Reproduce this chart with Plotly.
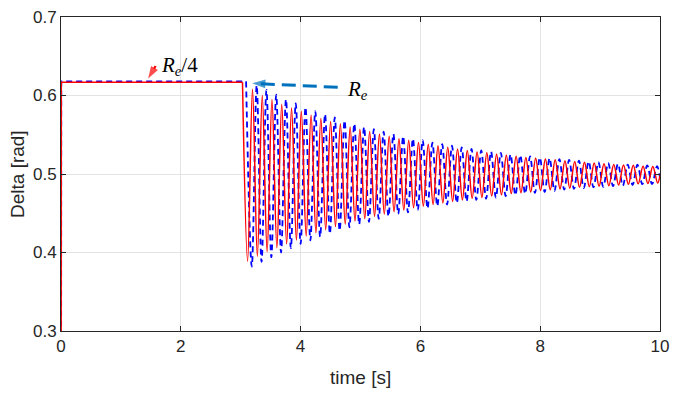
import plotly.graph_objects as go

# ---------------- data ----------------
# pre-fault part (time [s], delta [rad])
pre_t_red = [0.0, 0.005, 3.03]
pre_v_red = [0.0, 0.617, 0.617]
pre_t_blue = [0.0, 0.005, 3.09]
pre_v_blue = [0.0, 0.618, 0.618]

# post-fault extrema of the red (R_e/4) response
red_t = [
    3.03,
    3.115, 3.197, 3.278, 3.360, 3.441, 3.522, 3.604, 3.685, 3.767, 3.849,
    3.930, 4.012, 4.093, 4.175, 4.256, 4.338, 4.419, 4.501, 4.582, 4.664,
    4.745, 4.827, 4.908, 4.990, 5.071, 5.153, 5.234, 5.316, 5.397, 5.479,
    5.560, 5.642, 5.723, 5.805, 5.886, 5.968, 6.049, 6.131, 6.212, 6.294,
    6.375, 6.457, 6.538, 6.620, 6.701, 6.783, 6.864, 6.946, 7.027, 7.109,
    7.190, 7.272, 7.353, 7.435, 7.516, 7.598, 7.679, 7.761, 7.842, 7.924,
    8.005, 8.087, 8.168, 8.250, 8.331, 8.413, 8.494, 8.576, 8.657, 8.739,
    8.820, 8.902, 8.983, 9.065, 9.146, 9.228, 9.309, 9.391, 9.472, 9.554,
    9.635, 9.717, 9.798, 9.880, 9.961,
    10.0,
]
red_v = [
    0.617,
    0.389, 0.608, 0.395, 0.600, 0.401, 0.595, 0.406, 0.589, 0.411, 0.584,
    0.416, 0.580, 0.421, 0.575, 0.425, 0.571, 0.429, 0.567, 0.433, 0.564,
    0.436, 0.560, 0.440, 0.557, 0.443, 0.554, 0.446, 0.551, 0.449, 0.548,
    0.452, 0.545, 0.454, 0.543, 0.457, 0.540, 0.459, 0.538, 0.461, 0.536,
    0.463, 0.534, 0.465, 0.532, 0.467, 0.530, 0.469, 0.528, 0.470, 0.527,
    0.472, 0.525, 0.4735, 0.524, 0.475, 0.5225, 0.476, 0.521, 0.477, 0.520,
    0.479, 0.519, 0.480, 0.518, 0.481, 0.517, 0.482, 0.516, 0.483, 0.515,
    0.484, 0.514, 0.4845, 0.513, 0.485, 0.512, 0.486, 0.5115, 0.487, 0.511,
    0.4875, 0.510, 0.488, 0.5095, 0.4885,
    0.498,
]

# post-fault extrema of the blue (R_e) response
blue_t = [
    3.09,
    3.185, 3.267, 3.348, 3.430, 3.511, 3.593, 3.674, 3.756, 3.837, 3.919,
    4.000, 4.082, 4.163, 4.245, 4.326, 4.408, 4.489, 4.571, 4.652, 4.734,
    4.815, 4.897, 4.978, 5.060, 5.141, 5.223, 5.304, 5.386, 5.467, 5.549,
    5.630, 5.712, 5.793, 5.875, 5.956, 6.038, 6.119, 6.201, 6.282, 6.364,
    6.445, 6.527, 6.608, 6.690, 6.771, 6.853, 6.934, 7.016, 7.097, 7.179,
    7.260, 7.342, 7.423, 7.505, 7.586, 7.668, 7.749, 7.831, 7.912, 7.994,
    8.075, 8.157, 8.238, 8.320, 8.401, 8.483, 8.564, 8.646, 8.727, 8.809,
    8.890, 8.972, 9.053, 9.135, 9.216, 9.298, 9.379, 9.461, 9.542, 9.624,
    9.705, 9.787, 9.868, 9.950,
    10.0,
]
blue_v = [
    0.618,
    0.382, 0.613, 0.388, 0.607, 0.394, 0.601, 0.400, 0.595, 0.4055, 0.590,
    0.411, 0.585, 0.4155, 0.580, 0.420, 0.576, 0.424, 0.572, 0.428, 0.568,
    0.432, 0.564, 0.436, 0.560, 0.439, 0.557, 0.443, 0.554, 0.446, 0.551,
    0.449, 0.548, 0.451, 0.545, 0.454, 0.543, 0.456, 0.540, 0.459, 0.538,
    0.461, 0.536, 0.463, 0.534, 0.465, 0.532, 0.467, 0.530, 0.4685, 0.5285,
    0.470, 0.527, 0.472, 0.525, 0.473, 0.524, 0.475, 0.5225, 0.476, 0.521,
    0.477, 0.520, 0.4785, 0.519, 0.480, 0.518, 0.481, 0.517, 0.482, 0.516,
    0.483, 0.515, 0.4835, 0.514, 0.4845, 0.513, 0.485, 0.512, 0.486, 0.512,
    0.487, 0.511, 0.487, 0.510,
    0.495,
]

x_ticks = [0, 2, 4, 6, 8, 10]
y_ticks = [0.3, 0.4, 0.5, 0.6, 0.7]
x_title = "time [s]"
y_title = "Delta [rad]"

# ---------------- figure ----------------
RED = "#ff0000"
BLUE = "#0000ff"
ARROW_BLUE = "#0072bd"
TXT = "#262626"
SANS = "Liberation Sans, Arial, sans-serif"
SERIF = "Liberation Serif, serif"

fig = go.Figure()
fig.add_trace(go.Scatter(x=pre_t_blue, y=pre_v_blue, mode="lines",
                         line=dict(color=BLUE, width=1.8, dash="6px,4px"),
                         hoverinfo="skip"))
fig.add_trace(go.Scatter(x=blue_t, y=blue_v, mode="lines",
                         line=dict(color=BLUE, width=1.8, dash="6px,4px",
                                   shape="spline"),
                         hoverinfo="skip"))
fig.add_trace(go.Scatter(x=pre_t_red, y=pre_v_red, mode="lines",
                         line=dict(color=RED, width=1.5), hoverinfo="skip"))
fig.add_trace(go.Scatter(x=red_t, y=red_v, mode="lines",
                         line=dict(color=RED, width=1.5, shape="spline"),
                         hoverinfo="skip"))

# red arrow (tail -> tip) + label
fig.add_trace(go.Scatter(
    x=[1.58, 1.455], y=[0.6375, 0.6215], mode="lines+markers",
    line=dict(color=RED, width=2.2),
    marker=dict(symbol=["circle", "arrow"], size=[0, 13], color=RED,
                angleref="previous", line=dict(width=0)),
    hoverinfo="skip"))
fig.add_annotation(x=1.63, y=0.637, xref="x", yref="y", xanchor="left",
                   yanchor="middle", showarrow=False,
                   text="<i>R</i><sub><i>e</i></sub>/4",
                   font=dict(family=SERIF, size=21, color="#000000"))

# blue dashed arrow (tail -> tip) + label
fig.add_trace(go.Scatter(
    x=[4.62, 3.25], y=[0.6105, 0.6152], mode="lines",
    line=dict(color=ARROW_BLUE, width=3, dash="14px,7px"),
    hoverinfo="skip"))
fig.add_trace(go.Scatter(
    x=[3.40, 3.19], y=[0.6148, 0.6156], mode="markers",
    marker=dict(symbol=["circle", "arrow"], size=[0, 14], color=ARROW_BLUE,
                angleref="previous", line=dict(width=0)),
    hoverinfo="skip"))
fig.add_annotation(x=4.74, y=0.607, xref="x", yref="y", xanchor="left",
                   yanchor="middle", showarrow=False,
                   text="<i>R</i><sub><i>e</i></sub>",
                   font=dict(family=SERIF, size=21, color="#000000"))

# axis titles
fig.add_annotation(x=0.5, y=0, xref="paper", yref="paper", yshift=-46,
                   xanchor="center", yanchor="middle", showarrow=False,
                   text=x_title, font=dict(family=SANS, size=19, color=TXT))
fig.add_annotation(x=0, y=0.5, xref="paper", yref="paper", xshift=-44,
                   xanchor="center", yanchor="middle", showarrow=False,
                   textangle=-90, text=y_title,
                   font=dict(family=SANS, size=19, color=TXT))

axis_common = dict(
    showgrid=True, gridcolor="#e3e3e3", gridwidth=1,
    showline=True, linecolor=TXT, linewidth=1, mirror="ticks",
    ticks="inside", ticklen=5, tickcolor=TXT, tickwidth=1,
    zeroline=False, automargin=False, ticklabeloverflow="allow",
    tickfont=dict(family=SANS, size=17, color=TXT),
)
fig.update_xaxes(range=[0, 10], tickvals=x_ticks,
                 ticktext=[str(v) for v in x_ticks], **axis_common)
fig.update_yaxes(range=[0.3, 0.7], tickvals=y_ticks,
                 ticktext=[f"{v:.1f}" for v in y_ticks], **axis_common)

fig.update_layout(
    width=678, height=394,
    margin=dict(l=61, r=18, t=17, b=63, autoexpand=False),
    paper_bgcolor="white", plot_bgcolor="white",
    showlegend=False, hovermode=False,
)

# remove the default 8px page margin so the figure fills the window
fig.write_html("out.html", config={"displayModeBar": False},
               post_script="document.body.style.margin='0px';")
